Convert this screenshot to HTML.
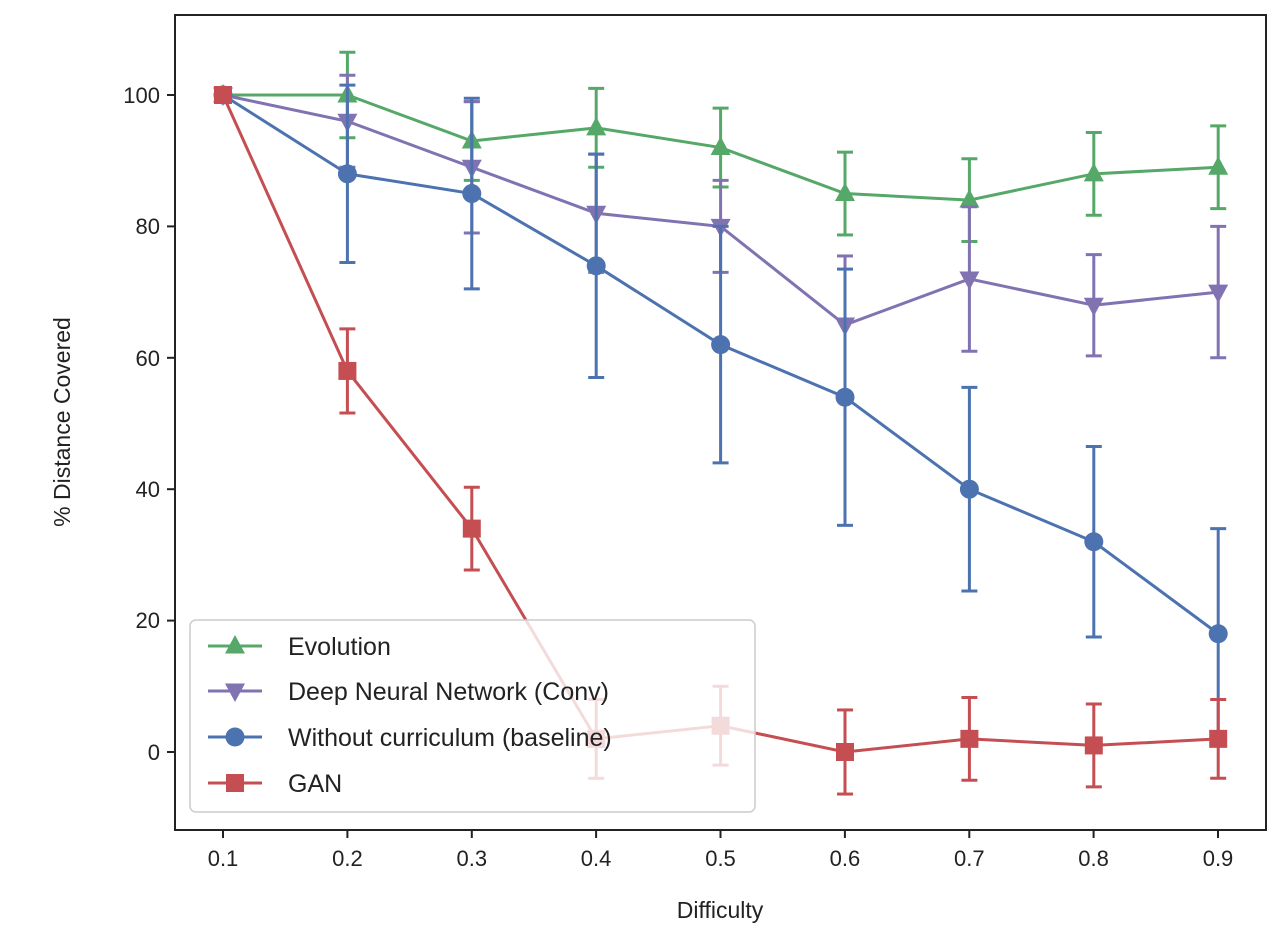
<!DOCTYPE html>
<html><head><meta charset="utf-8"><style>
body{margin:0;background:#fff;}
svg text{font-family:"Liberation Sans","DejaVu Sans",sans-serif;fill:#222;}
</style></head><body>
<svg id="s" width="1284" height="942" xmlns="http://www.w3.org/2000/svg">
<rect x="0" y="0" width="1284" height="942" fill="#fff"/>
<g id="data"></g>
<rect x="175" y="15" width="1091" height="815" fill="none" stroke="#222" stroke-width="2"/>
<g stroke="#222" stroke-width="2">
<line x1="223" y1="830" x2="223" y2="838"/><line x1="347.4" y1="830" x2="347.4" y2="838"/><line x1="471.8" y1="830" x2="471.8" y2="838"/><line x1="596.1" y1="830" x2="596.1" y2="838"/><line x1="720.5" y1="830" x2="720.5" y2="838"/><line x1="844.9" y1="830" x2="844.9" y2="838"/><line x1="969.3" y1="830" x2="969.3" y2="838"/><line x1="1093.6" y1="830" x2="1093.6" y2="838"/><line x1="1218" y1="830" x2="1218" y2="838"/>
<line x1="167" y1="95" x2="175" y2="95"/><line x1="167" y1="226.4" x2="175" y2="226.4"/><line x1="167" y1="357.8" x2="175" y2="357.8"/><line x1="167" y1="489.2" x2="175" y2="489.2"/><line x1="167" y1="620.6" x2="175" y2="620.6"/><line x1="167" y1="752" x2="175" y2="752"/>
</g>
<g font-size="22" text-anchor="middle">
<text x="223" y="866">0.1</text><text x="347.4" y="866">0.2</text><text x="471.8" y="866">0.3</text><text x="596.1" y="866">0.4</text><text x="720.5" y="866">0.5</text><text x="844.9" y="866">0.6</text><text x="969.3" y="866">0.7</text><text x="1093.6" y="866">0.8</text><text x="1218" y="866">0.9</text>
</g>
<g font-size="22" text-anchor="end">
<text x="160" y="103">100</text><text x="160" y="234">80</text><text x="160" y="366">60</text><text x="160" y="497">40</text><text x="160" y="628">20</text><text x="160" y="760">0</text>
</g>
<text x="720" y="918" font-size="23" text-anchor="middle">Difficulty</text>
<text transform="translate(70,422) rotate(-90)" font-size="23" text-anchor="middle">% Distance Covered</text>
<g id="leg">
<rect x="190" y="620" width="565" height="192" rx="6" fill="#fff" fill-opacity="0.8" stroke="#ccc" stroke-width="1.5"/>
<g font-size="25">
<text x="288" y="655">Evolution</text>
<text x="288" y="700">Deep Neural Network (Conv)</text>
<text x="288" y="746">Without curriculum (baseline)</text>
<text x="288" y="792">GAN</text>
</g>
</g>
</svg>
<script>
const X=v=>223+(v-0.1)/0.1*124.4, Y=v=>752-v*6.57;
const xs=[0.1,0.2,0.3,0.4,0.5,0.6,0.7,0.8,0.9];
const S=[
{c:"#55a868",m:"tu",y:[100,100,93,95,92,85,84,88,89],e:[0,6.5,6,6,6,6.3,6.3,6.3,6.3]},
{c:"#8172b2",m:"td",y:[100,96,89,82,80,65,72,68,70],e:[0,7,10,9,7,10.5,11,7.7,10]},
{c:"#4c72b0",m:"o",y:[100,88,85,74,62,54,40,32,18],e:[0,13.5,14.5,17,18,19.5,15.5,14.5,16]},
{c:"#c44e52",m:"s",y:[100,58,34,2,4,0,2,1,2],e:[0,6.4,6.3,6,6,6.4,6.3,6.3,6]}];
function mk(m,x,y,c){
 if(m=="o")return `<circle cx="${x}" cy="${y}" r="9.5" fill="${c}"/>`;
 if(m=="s")return `<rect x="${x-9}" y="${y-9}" width="18" height="18" fill="${c}"/>`;
 if(m=="tu")return `<polygon points="${x},${y-11} ${x-10},${y+7.5} ${x+10},${y+7.5}" fill="${c}"/>`;
 return `<polygon points="${x},${y+11} ${x-10},${y-7.5} ${x+10},${y-7.5}" fill="${c}"/>`;
}
let h="";
for(const s of S){
 let g=`<g stroke="${s.c}" stroke-width="3" fill="none">`;
 for(let i=0;i<9;i++){const x=X(xs[i]),a=Y(s.y[i]-s.e[i]),b=Y(s.y[i]+s.e[i]);
  g+=`<line x1="${x}" y1="${a}" x2="${x}" y2="${b}"/><line x1="${x-8}" y1="${a}" x2="${x+8}" y2="${a}"/><line x1="${x-8}" y1="${b}" x2="${x+8}" y2="${b}"/>`;}
 g+=`<polyline points="${xs.map((v,i)=>X(v)+","+Y(s.y[i])).join(" ")}"/></g>`;
 for(let i=0;i<9;i++)g+=mk(s.m,X(xs[i]),Y(s.y[i]),s.c);
 h+=g;
}
document.getElementById("data").innerHTML=h;
let L="";const ly=[646,691,737,783];
S.forEach((s,i)=>{L+=`<line x1="208" y1="${ly[i]}" x2="262" y2="${ly[i]}" stroke="${s.c}" stroke-width="3"/>`+mk(s.m,235,ly[i],s.c);});
document.getElementById("leg").insertAdjacentHTML("beforeend",L);
</script>
</body></html>
